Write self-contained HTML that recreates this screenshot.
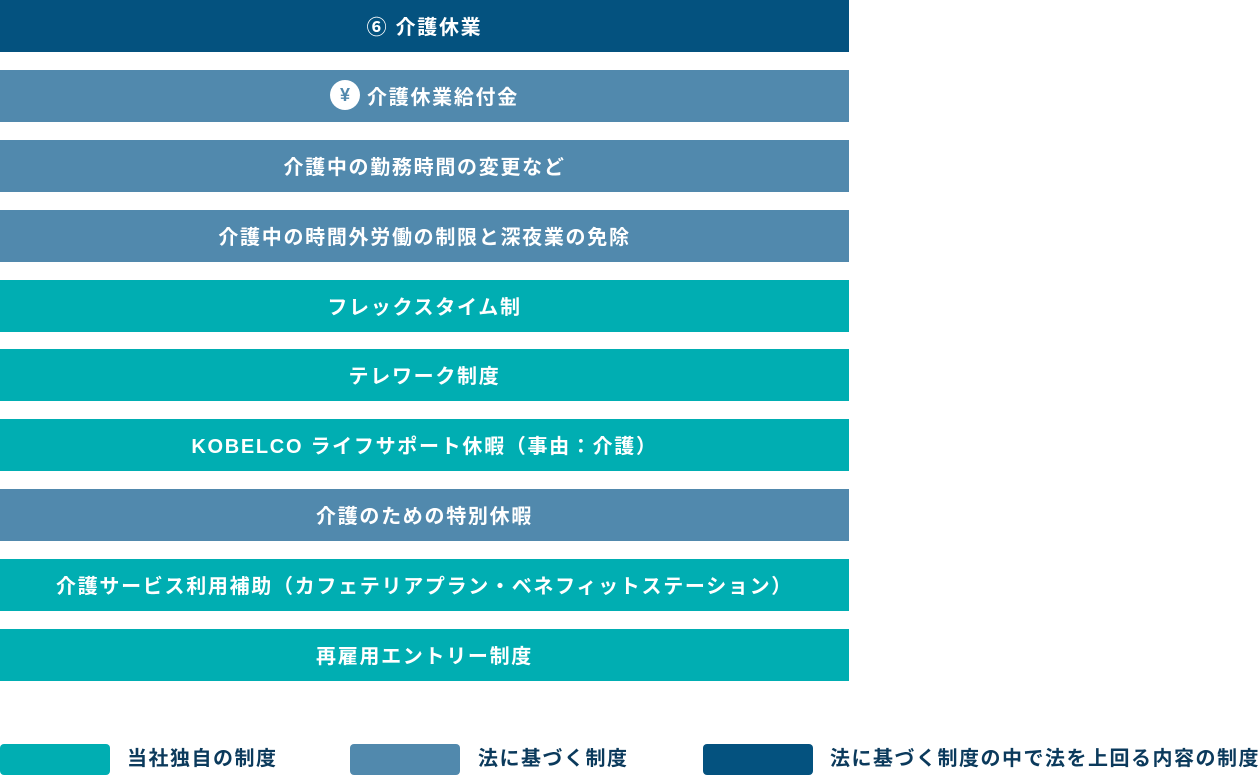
<!DOCTYPE html>
<html><head><meta charset="utf-8"><style>
body{margin:0;width:1260px;height:776px;background:#fff;position:relative;overflow:hidden;font-family:"Liberation Sans","Noto Sans CJK JP",sans-serif;}
.b{position:absolute;left:0;width:849px;height:50px;padding-bottom:2px;color:#fff;font-weight:bold;font-size:20px;letter-spacing:1.7px;display:flex;align-items:center;justify-content:center;}
.n{background:#04527f}.m{background:#5189ad}.t{background:#00aeb2}
.y{display:inline-flex;width:30px;height:30px;border-radius:50%;background:#fff;color:#5189ad;align-items:center;justify-content:center;font-size:18px;margin-right:7px;letter-spacing:0}
.s{position:absolute;top:744px;width:110px;height:31px;border-radius:4px}
.l{position:absolute;top:744px;font-size:20px;letter-spacing:1.5px;font-weight:bold;color:#0b3a5c;line-height:30px;white-space:nowrap}
</style></head><body>
<div class="b n" style="top:0">⑥ 介護休業</div>
<div class="b m" style="top:70px"><span class="y">¥</span>介護休業給付金</div>
<div class="b m" style="top:140px">介護中の勤務時間の変更など</div>
<div class="b m" style="top:210px">介護中の時間外労働の制限と深夜業の免除</div>
<div class="b t" style="top:280px">フレックスタイム制</div>
<div class="b t" style="top:349px">テレワーク制度</div>
<div class="b t" style="top:419px">KOBELCO ライフサポート休暇（事由：介護）</div>
<div class="b m" style="top:489px">介護のための特別休暇</div>
<div class="b t" style="top:559px">介護サービス利用補助（カフェテリアプラン・ベネフィットステーション）</div>
<div class="b t" style="top:629px">再雇用エントリー制度</div>
<div class="s t" style="left:0"></div><div class="l" style="left:127px">当社独自の制度</div>
<div class="s m" style="left:350px"></div><div class="l" style="left:478px">法に基づく制度</div>
<div class="s n" style="left:703px"></div><div class="l" style="left:830px">法に基づく制度の中で法を上回る内容の制度</div>
</body></html>
